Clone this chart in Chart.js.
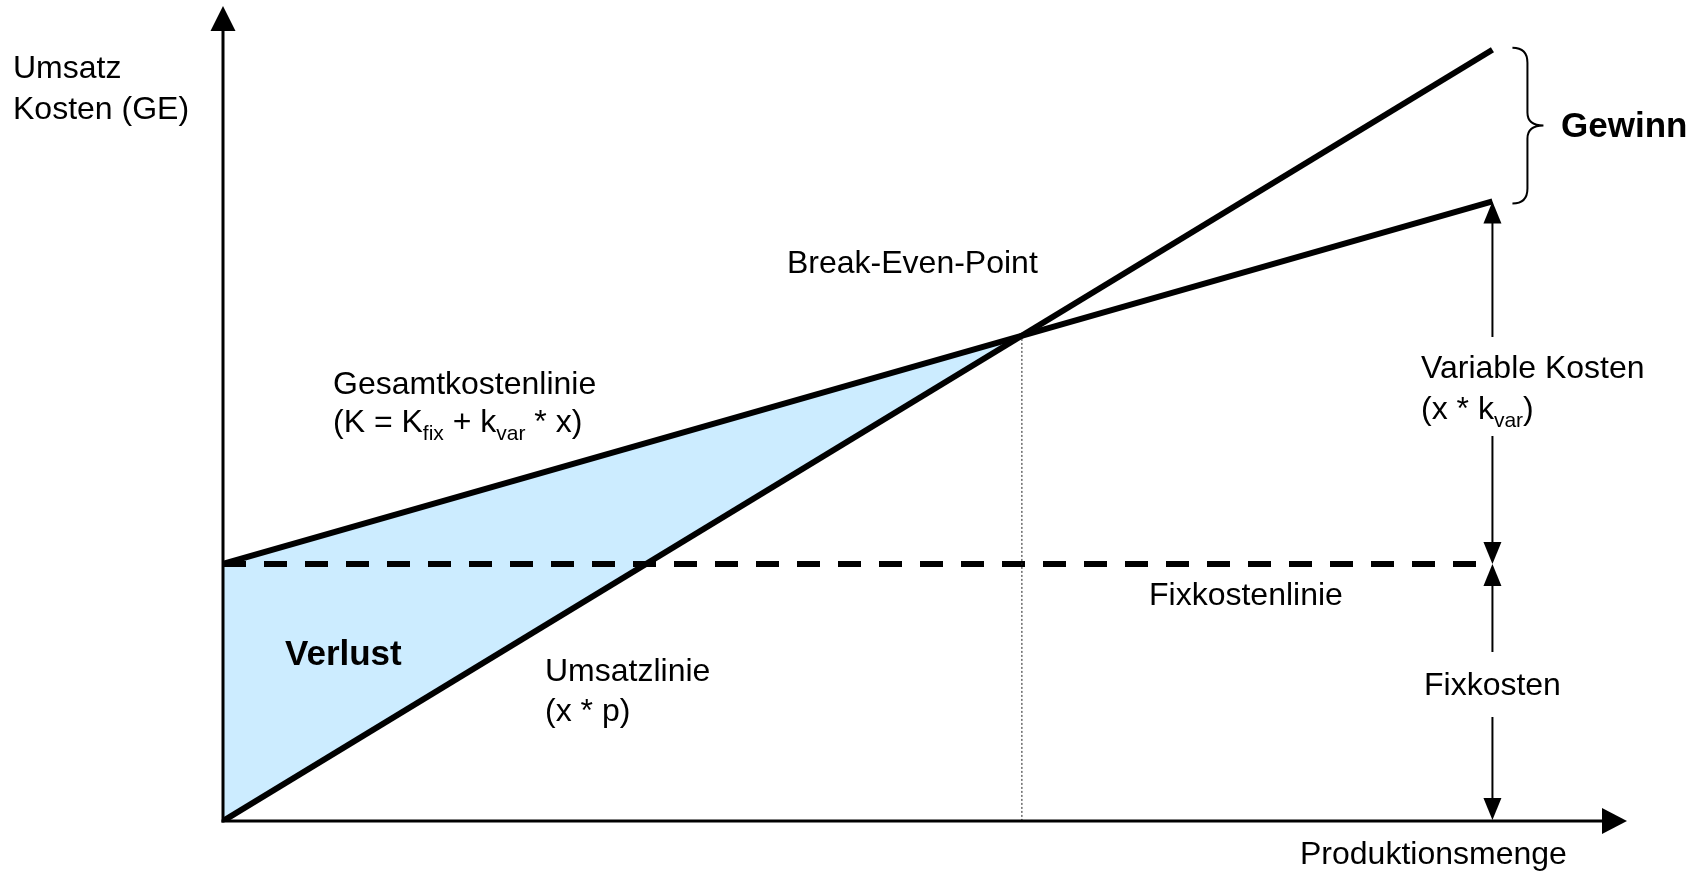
<!DOCTYPE html>
<html lang="de">
<head>
<meta charset="utf-8">
<title>Break-Even-Analyse</title>
<script src="https://cdn.jsdelivr.net/npm/chart.js@4/dist/chart.umd.min.js"></script>
<style>
  html, body { margin: 0; padding: 0; background: #ffffff; }
  canvas { display: block; }
</style>
</head>
<body>
<canvas id="chart" width="1704" height="871"></canvas>
<script>
// Produktionsmenge (x) at the start and end of the drawn lines
const quantities = [0, 100];
// Umsatzlinie: x * p
const revenue = [0, 150];
// Gesamtkostenlinie: K_fix + k_var * x
const totalCost = [50, 120.5];
// Fixkostenlinie: K_fix
const fixedCost = [50, 50];

const X_MAX = 110.6;   // end of the x-axis arrow
const Y_MAX = 158.5;   // end of the y-axis arrow

const FONT = '"Liberation Sans", Arial, Helvetica, sans-serif';
const LOSS_FILL = '#CCECFF';

// Break-even quantity: where the revenue line meets the total cost line
function breakEven() {
  const x0 = quantities[0], x1 = quantities[1];
  const sr = (revenue[1] - revenue[0]) / (x1 - x0);
  const sc = (totalCost[1] - totalCost[0]) / (x1 - x0);
  const x = x0 + (totalCost[0] - revenue[0]) / (sr - sc);
  return { x: x, y: revenue[0] + sr * (x - x0) };
}

function toPoints(values) {
  return quantities.map((q, i) => ({ x: q, y: values[i] }));
}

function arrowHead(ctx, x, y, dir, len, half) {
  // dir: 'up' | 'down' | 'right'
  ctx.beginPath();
  if (dir === 'up') {
    ctx.moveTo(x, y); ctx.lineTo(x - half, y + len); ctx.lineTo(x + half, y + len);
  } else if (dir === 'down') {
    ctx.moveTo(x, y); ctx.lineTo(x - half, y - len); ctx.lineTo(x + half, y - len);
  } else {
    ctx.moveTo(x, y); ctx.lineTo(x - len, y - half); ctx.lineTo(x - len, y + half);
  }
  ctx.closePath();
  ctx.fill();
}

function line(ctx, x1, y1, x2, y2) {
  ctx.beginPath();
  ctx.moveTo(x1, y1);
  ctx.lineTo(x2, y2);
  ctx.stroke();
}

// Text with subscript parts: [['text'], ['sub', true], ...]
function richText(ctx, parts, x, y, size) {
  let cx = x;
  parts.forEach(([t, sub]) => {
    ctx.font = (sub ? Math.round(size * 0.67) : size) + 'px ' + FONT;
    ctx.fillText(t, cx, sub ? y + 8 : y);
    cx += ctx.measureText(t).width;
  });
}

const diagramPlugin = {
  id: 'breakEvenDiagram',
  afterDatasetsDraw(chart) {
    const ctx = chart.ctx;
    const xs = chart.scales.x, ys = chart.scales.y;
    const X = v => xs.getPixelForValue(v);
    const Y = v => ys.getPixelForValue(v);
    const ox = X(0), oy = Y(0);

    ctx.save();
    ctx.fillStyle = '#000';
    ctx.strokeStyle = '#000';

    // dotted guide from the break-even point down to the x-axis
    const be = breakEven();
    ctx.lineWidth = 1;
    ctx.strokeStyle = '#222';
    ctx.setLineDash([2, 2]);
    line(ctx, X(be.x) + 0.5, Y(be.y) + 3, X(be.x) + 0.5, oy);
    ctx.setLineDash([]);
    ctx.strokeStyle = '#000';

    // axes with arrow heads
    ctx.lineWidth = 3;
    ctx.lineCap = 'butt';
    line(ctx, ox, oy + 1.5, ox, ys.top + 24);
    arrowHead(ctx, ox, ys.top, 'up', 25, 12.5);
    line(ctx, ox - 1.5, oy, xs.right - 23, oy);
    arrowHead(ctx, xs.right, oy, 'right', 25, 13);

    // dimension arrows at the end of the lines
    const xd = X(quantities[1]);
    const yCost = Y(totalCost[1]);
    const yFix = Y(fixedCost[1]);
    ctx.lineWidth = 2;
    // variable costs
    arrowHead(ctx, xd, yCost, 'up', 22, 9);
    line(ctx, xd, yCost + 20, xd, 337);
    line(ctx, xd, 436, xd, yFix - 20);
    arrowHead(ctx, xd, yFix, 'down', 22, 9);
    // fixed costs
    arrowHead(ctx, xd, yFix, 'up', 22, 9);
    line(ctx, xd, yFix + 20, xd, 652);
    line(ctx, xd, 717, xd, oy - 20);
    arrowHead(ctx, xd, oy - 1, 'down', 22, 9);

    // curly brace spanning the profit between revenue and cost at the end
    const bTop = Y(revenue[1]) - 2, bBot = yCost + 2;
    const bMid = (bTop + bBot) / 2;
    const bx0 = xd + 20, bx1 = bx0 + 15, bTip = bx0 + 31;
    ctx.lineWidth = 2;
    ctx.beginPath();
    ctx.moveTo(bx0, bTop);
    ctx.quadraticCurveTo(bx1, bTop, bx1, bTop + 15);
    ctx.lineTo(bx1, bMid - 13);
    ctx.quadraticCurveTo(bx1, bMid, bTip, bMid);
    ctx.quadraticCurveTo(bx1, bMid, bx1, bMid + 13);
    ctx.lineTo(bx1, bBot - 15);
    ctx.quadraticCurveTo(bx1, bBot, bx0, bBot);
    ctx.stroke();

    // labels
    const size = 32;
    ctx.textBaseline = 'alphabetic';
    ctx.textAlign = 'left';
    ctx.font = size + 'px ' + FONT;
    ctx.fillText('Umsatz', 13, 78);
    ctx.fillText('Kosten (GE)', 13, 119);
    ctx.fillText('Break-Even-Point', 787, 273);
    ctx.fillText('Gesamtkostenlinie', 333, 394);
    richText(ctx, [['(K = K'], ['fix', true], [' + k'], ['var', true], [' * x)']], 333, 432, size);
    ctx.font = size + 'px ' + FONT;
    ctx.fillText('Umsatzlinie', 545, 681);
    ctx.fillText('(x * p)', 545, 721);
    ctx.fillText('Variable Kosten', 1421, 378);
    richText(ctx, [['(x * k'], ['var', true], [')']], 1421, 419, size);
    ctx.font = size + 'px ' + FONT;
    ctx.fillText('Fixkostenlinie', 1149, 605);
    ctx.fillText('Produktionsmenge', 1300, 864);
    ctx.textAlign = 'center';
    ctx.fillText('Fixkosten', xd, 695);
    ctx.textAlign = 'left';
    ctx.font = 'bold 35px ' + FONT;
    ctx.fillText('Verlust', 285, 665);
    ctx.fillText('Gewinn', 1561, 137);

    ctx.restore();
  }
};

new Chart(document.getElementById('chart'), {
  type: 'line',
  data: {
    datasets: [
      {
        label: 'Gesamtkostenlinie',
        data: toPoints(totalCost),
        borderColor: '#000',
        borderWidth: 6,
        pointRadius: 0,
        fill: { target: 1, above: LOSS_FILL, below: 'rgba(0,0,0,0)' }
      },
      {
        label: 'Umsatzlinie',
        data: toPoints(revenue),
        borderColor: '#000',
        borderWidth: 6,
        pointRadius: 0,
        fill: false
      },
      {
        label: 'Fixkostenlinie',
        data: toPoints(fixedCost),
        borderColor: '#000',
        borderWidth: 6,
        borderDash: [23, 18],
        pointRadius: 0,
        fill: false
      }
    ]
  },
  options: {
    responsive: false,
    animation: false,
    events: [],
    layout: { padding: { left: 223, right: 77, top: 6, bottom: 50 } },
    scales: {
      x: { type: 'linear', min: 0, max: X_MAX, display: false },
      y: { type: 'linear', min: 0, max: Y_MAX, display: false }
    },
    plugins: {
      legend: { display: false },
      title: { display: false },
      tooltip: { enabled: false },
      filler: { drawTime: 'beforeDatasetsDraw' }
    }
  },
  plugins: [diagramPlugin]
});
</script>
</body>
</html>
